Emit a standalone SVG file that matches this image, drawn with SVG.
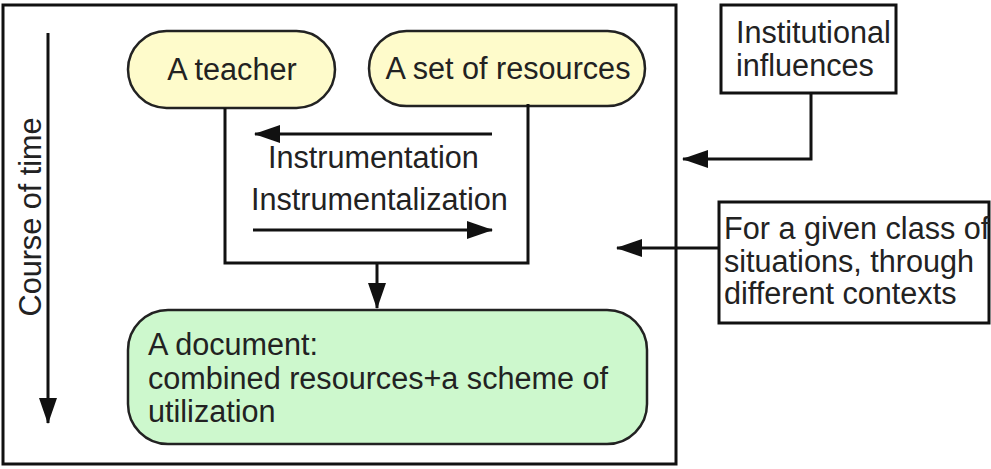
<svg xmlns="http://www.w3.org/2000/svg" width="991" height="469" viewBox="0 0 991 469">
  <style>
    text { font-family: "Liberation Sans", Arial, sans-serif; font-size: 30.6px; fill: #222; }
    .frame { fill: #fff; stroke: #111; stroke-width: 3; }
    .pill { fill: #fefbcb; stroke: #222; stroke-width: 2.5; }
    .doc { fill: #cdf8cd; stroke: #222; stroke-width: 2.5; }
    .box { fill: #fff; stroke: #111; stroke-width: 3; }
    .wire { fill: none; stroke: #111; stroke-width: 3; }
    .arrow { fill: none; stroke: #111; stroke-width: 3; marker-end: url(#head); }
  </style>
  <defs>
    <marker id="head" markerUnits="userSpaceOnUse" markerWidth="26" markerHeight="18" viewBox="0 0 26 18" refX="25" refY="9" orient="auto">
      <path d="M0,0 L26,9 L0,18 Z" fill="#111"/>
    </marker>
  </defs>

  <rect width="991" height="469" fill="#fff"/>

  <!-- outer frame -->
  <rect id="frame" class="frame" x="3" y="5" width="673" height="459"/>

  <!-- time axis -->
  <g id="time-axis">
    <text transform="translate(41,217) rotate(-90)" text-anchor="middle">Course of time</text>
  </g>

  <g id="teacher">
    <rect class="pill" x="128" y="31" width="207" height="77" rx="38.5" ry="38.5"/>
    <text x="232" y="80" text-anchor="middle">A teacher</text>
  </g>

  <g id="resources">
    <rect class="pill" x="369" y="31" width="276" height="75" rx="37.5" ry="37.5"/>
    <text x="508" y="79" text-anchor="middle">A set of resources</text>
  </g>

  <g id="document">
    <rect class="doc" x="128" y="310" width="519" height="134" rx="40" ry="40"/>
    <text x="148" y="355">A document:</text>
    <text x="148" y="389">combined resources+a scheme of</text>
    <text x="148" y="422">utilization</text>
  </g>

  <g id="institutional">
    <rect class="box" x="721" y="5" width="175" height="88"/>
    <text x="736" y="43">Institutional</text>
    <text x="736" y="76">influences</text>
  </g>

  <g id="situations">
    <rect class="box" x="719" y="202" width="270" height="121"/>
    <text x="724" y="239">For a given class of</text>
    <text x="724" y="272">situations, through</text>
    <text x="724" y="304">different contexts</text>
  </g>

  <g id="process-labels">
    <text x="268" y="168">Instrumentation</text>
    <text x="251" y="210">Instrumentalization</text>
  </g>

  <g id="connectors">
    <path class="arrow" d="M48,33 V423"/>
    <path class="wire" d="M225,108 V263 H528 V104"/>
    <path class="arrow" d="M492,134 H255"/>
    <path class="arrow" d="M253,230 H492"/>
    <path class="arrow" d="M377,263 V308"/>
    <path class="arrow" d="M811,93 V159 H683"/>
    <path class="arrow" d="M719,248 H617"/>
  </g>
</svg>
